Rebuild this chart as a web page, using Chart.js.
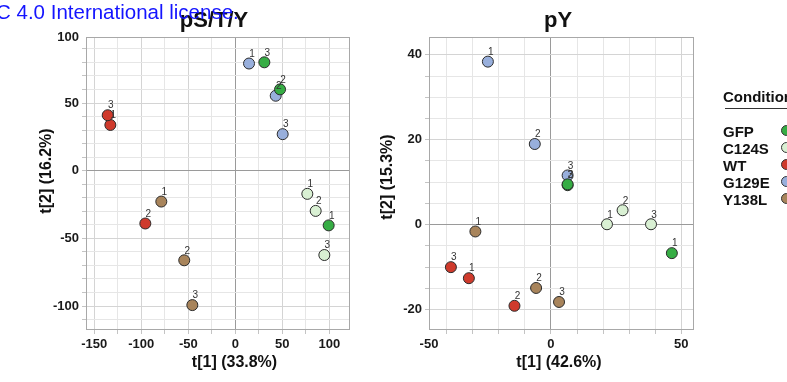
<!DOCTYPE html>
<html>
<head>
<meta charset="utf-8">
<script src="https://cdn.jsdelivr.net/npm/chart.js@4/dist/chart.umd.min.js"></script>
<style>
html,body{margin:0;padding:0;background:#fff;}
body{width:787px;height:382px;overflow:hidden;position:relative;font-family:"Liberation Sans",Arial,sans-serif;}
#c1{position:absolute;left:0;top:0;}
#c2{position:absolute;left:372px;top:0;}
#license{position:absolute;left:-4px;top:2px;font-size:20.5px;line-height:1;color:#1414ff;white-space:nowrap;}
#legend{position:absolute;left:723px;top:0;width:64px;height:382px;overflow:hidden;}
#legend .ttl{position:absolute;left:0;top:88px;font-weight:bold;font-size:15px;line-height:18px;color:#111;white-space:nowrap;}
#legend .rule{position:absolute;left:2px;top:108px;width:80px;height:0;border-top:1.5px solid #333;}
#legend .row{position:absolute;left:0;font-weight:bold;font-size:15px;line-height:17px;color:#111;white-space:nowrap;width:90px;}
#legend .dot{position:absolute;left:58px;top:2px;width:11px;height:11px;border-radius:50%;border:1px solid #333;box-sizing:border-box;}
</style>
</head>
<body>
<canvas id="c1" width="372" height="382"></canvas>
<canvas id="c2" width="415" height="382"></canvas>
<div id="license">C 4.0 International license.</div>
<div id="legend"></div>
<script>
// ---- categories ----
const conditions = ['GFP', 'C124S', 'WT', 'G129E', 'Y138L'];
const conditionColors = ['#36ad44', '#d9f0d3', '#cf3a2c', '#98afdc', '#a8845b'];
const replicateLabels = ['1', '2', '3'];

// ---- pS/T/Y scores: [t1, t2] for replicates 1,2,3 ----
const pstyGFP   = [[99.3, -40.4], [47.6, 60.1], [30.9, 80.1]];
const pstyC124S = [[76.6, -17.1], [85.5, -29.7], [94.7, -62.3]];
const pstyWT    = [[-132.9, 33.8], [-95.7, -39.0], [-135.7, 41.0]];
const pstyG129E = [[14.6, 79.2], [43.0, 55.4], [50.4, 27.0]];
const pstyY138L = [[-78.7, -22.8], [-54.3, -66.2], [-45.7, -99.3]];

// ---- pY scores: [t1, t2] for replicates 1,2,3 ----
const pyGFP   = [[46.4, -6.7], [6.4, 9.3], [6.4, 9.5]];
const pyC124S = [[21.5, 0.1], [27.5, 3.4], [38.4, 0.1]];
const pyWT    = [[-31.5, -12.6], [-14.0, -19.1], [-38.4, -10.0]];
const pyG129E = [[-24.2, 38.4], [-6.2, 19.0], [6.4, 11.6]];
const pyY138L = [[-29.0, -1.6], [-5.7, -14.9], [3.1, -18.2]];

// ---- tick labels ----
const pstyXTicks = [-150, -100, -50, 0, 50, 100];
const pstyYTicks = [-100, -50, 0, 50, 100];
const pyXTicks = [-50, 0, 50];
const pyYTicks = [-20, 0, 20, 40];

// legend
const legendEl = document.getElementById('legend');
legendEl.innerHTML = '<div class="ttl">Condition</div><div class="rule"></div>';
conditions.forEach((c, i) => {
  const r = document.createElement('div');
  r.className = 'row';
  r.style.top = (122.5 + i * 17.2) + 'px';
  r.textContent = c;
  const d = document.createElement('span');
  d.className = 'dot';
  d.style.background = conditionColors[i];
  r.appendChild(d);
  legendEl.appendChild(r);
});

function makeDatasets(series) {
  return series.map((pts, k) => ({
    label: conditions[k],
    data: pts.map(p => ({ x: p[0], y: p[1] })),
    backgroundColor: conditionColors[k],
    borderColor: '#2b2b2b',
    borderWidth: 1,
    pointRadius: 5.5,
    pointHoverRadius: 5.5
  }));
}

function tickBuilder(labelVals, step) {
  return function (scale) {
    const min = scale.min, max = scale.max;
    const ticks = [];
    const start = Math.ceil(min / step - 1e-9) * step;
    for (let v = start; v <= max + 1e-9; v += step) {
      const val = Math.round(v * 1000) / 1000;
      ticks.push({ value: val, lbl: '', lab: labelVals.includes(val), edge: false });
    }
    labelVals.forEach(l => {
      if (l >= min && l <= max) {
        const t = ticks.find(t => t.value === l);
        if (t) t.lbl = String(l);
      } else {
        const c = Math.min(max, Math.max(min, l));
        ticks.push({ value: c, lbl: String(l), lab: true, edge: true });
      }
    });
    ticks.sort((a, b) => a.value - b.value);
    scale.ticks = ticks;
  };
}

function gridColor(ctx) {
  const t = ctx.tick;
  if (!t) return '#e6e6e6';
  if (t.edge) return 'rgba(0,0,0,0)';
  if (t.value === 0) return '#9a9a9a';
  if (t.lab) return '#d4d4d4';
  return '#e6e6e6';
}
function tickColor(ctx) {
  const t = ctx.tick;
  if (t && t.edge) return 'rgba(0,0,0,0)';
  return '#c4c4c4';
}

const tickFont = { family: '"Liberation Sans", Arial, sans-serif', size: 13, weight: 'bold' };

function axis(range, labels, step, pos, fitSize) {
  return {
    type: 'linear',
    position: pos,
    min: range[0],
    max: range[1],
    afterBuildTicks: tickBuilder(labels, step),
    afterFit: pos === 'left' ? (s => { s.width = fitSize; }) : (s => { s.height = fitSize; }),
    border: { display: false },
    grid: { color: gridColor, tickColor: tickColor, lineWidth: 1, drawTicks: true, tickLength: 4 },
    ticks: {
      autoSkip: false, maxRotation: 0, minRotation: 0, padding: 3,
      color: '#1a1a1a', font: tickFont,
      callback: (v, i, ticks) => ticks[i].lbl
    },
    title: { display: false }
  };
}

const decor = {
  id: 'decor',
  beforeDatasetsDraw(chart) {
    const a = chart.chartArea, ctx = chart.ctx;
    ctx.save();
    ctx.strokeStyle = '#a8a8a8';
    ctx.lineWidth = 1;
    ctx.strokeRect(Math.round(a.left) + 0.5, Math.round(a.top) + 0.5,
      Math.round(a.right) - Math.round(a.left) - 1, Math.round(a.bottom) - Math.round(a.top) - 1);
    ctx.restore();
  },
  afterDatasetsDraw(chart) {
    const ctx = chart.ctx;
    ctx.save();
    ctx.font = '10px "Liberation Sans", Arial, sans-serif';
    ctx.fillStyle = '#333';
    ctx.textAlign = 'center';
    ctx.textBaseline = 'middle';
    for (let d = chart.data.datasets.length - 1; d >= 0; d--) {
      const meta = chart.getDatasetMeta(d);
      for (let i = meta.data.length - 1; i >= 0; i--) {
        const el = meta.data[i];
        ctx.fillText(replicateLabels[i], el.x + 3, el.y - 9.5);
      }
    }
    ctx.restore();
  },
  afterDraw(chart) {
    const o = chart.options.plugins.decor;
    const ctx = chart.ctx;
    ctx.save();
    ctx.fillStyle = '#111';
    ctx.textAlign = 'center';
    ctx.textBaseline = 'alphabetic';
    ctx.font = 'bold 22px "Liberation Sans", Arial, sans-serif';
    ctx.fillText(o.title, o.titleX, 27);
    ctx.textBaseline = 'middle';
    ctx.font = 'bold 16px "Liberation Sans", Arial, sans-serif';
    ctx.fillText(o.xTitle, o.xTitleX, 363);
    ctx.translate(o.yTitleX, o.yTitleY);
    ctx.rotate(-Math.PI / 2);
    ctx.fillText(o.yTitle, 0, 0);
    ctx.restore();
  }
};

function makeChart(id, series, xr, yr, xl, yl, xs, ys, yw, pad, deco) {
  return new Chart(document.getElementById(id), {
    type: 'scatter',
    data: { datasets: makeDatasets(series) },
    options: {
      responsive: false,
      animation: false,
      events: [],
      layout: { padding: pad },
      scales: {
        x: axis(xr, xl, xs, 'bottom', 52),
        y: axis(yr, yl, ys, 'left', yw)
      },
      plugins: { legend: { display: false }, tooltip: { enabled: false }, decor: deco }
    },
    plugins: [decor]
  });
}

makeChart('c1', [pstyGFP, pstyC124S, pstyWT, pstyG129E, pstyY138L],
  [-158.8, 122], [-117.7, 98.8], pstyXTicks, pstyYTicks, 25, 10, 86,
  { left: 0, top: 37, right: 22, bottom: 0 },
  { title: 'pS/T/Y', titleX: 214, xTitle: 't[1] (33.8%)', xTitleX: 234.5,
    yTitle: 't[2] (16.2%)', yTitleX: 47, yTitleY: 171 });

makeChart('c2', [pyGFP, pyC124S, pyWT, pyG129E, pyY138L],
  [-46.8, 54.9], [-24.8, 44.2], pyXTicks, pyYTicks, 10, 5, 57,
  { left: 0, top: 37, right: 93, bottom: 0 },
  { title: 'pY', titleX: 186, xTitle: 't[1] (42.6%)', xTitleX: 187,
    yTitle: 't[2] (15.3%)', yTitleX: 16, yTitleY: 177 });
</script>
</body>
</html>
